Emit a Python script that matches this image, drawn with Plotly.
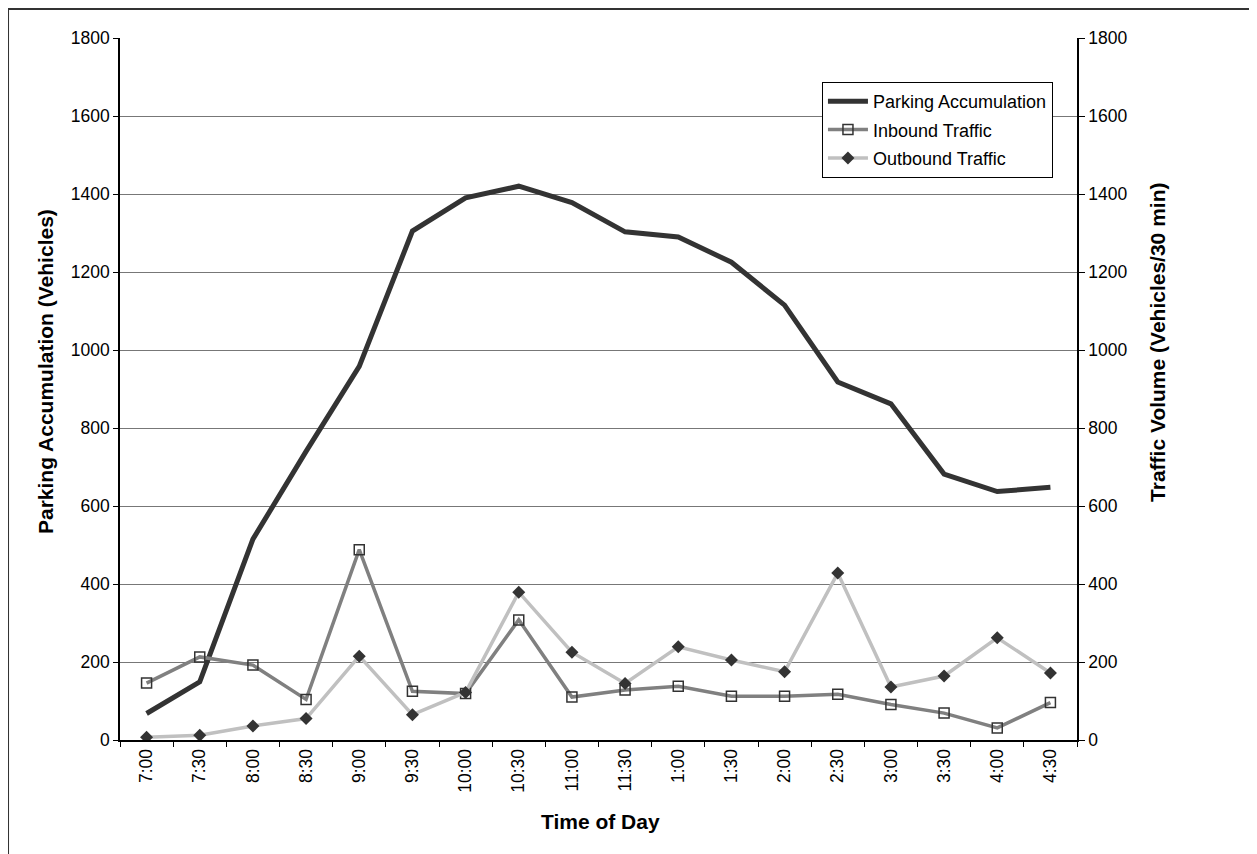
import plotly.graph_objects as go

times = ["7:00", "7:30", "8:00", "8:30", "9:00", "9:30", "10:00", "10:30", "11:00", "11:30",
         "1:00", "1:30", "2:00", "2:30", "3:00", "3:30", "4:00", "4:30"]
parking = [68, 149, 515, 740, 958, 1305, 1390, 1420, 1378, 1303,
           1290, 1225, 1115, 918, 862, 682, 637, 648]
inbound = [146, 213, 192, 104, 488, 125, 119, 308, 110, 128,
           138, 112, 112, 117, 91, 69, 31, 96]
outbound = [7, 12, 36, 55, 215, 65, 122, 379, 225, 145,
            239, 205, 175, 428, 136, 164, 262, 172]
yticks = [0, 200, 400, 600, 800, 1000, 1200, 1400, 1600, 1800]

FONT = "Liberation Sans, Arial, sans-serif"

fig = go.Figure()
fig.add_trace(go.Scatter(x=times, y=parking, name="Parking Accumulation", mode="lines",
                         line=dict(color="#333333", width=5), yaxis="y", legendgroup="a"))
fig.add_trace(go.Scatter(x=times, y=inbound, name="Inbound Traffic", mode="lines+markers",
                         line=dict(color="#808080", width=3.5),
                         marker=dict(symbol="square-open", size=10, color="#333333",
                                     line=dict(color="#333333", width=1.5)),
                         yaxis="y2", legendgroup="b"))
fig.add_trace(go.Scatter(x=times, y=outbound, name="Outbound Traffic", mode="lines+markers",
                         line=dict(color="#c0c0c0", width=3.5),
                         marker=dict(symbol="diamond", size=10, color="#333333"),
                         yaxis="y2", legendgroup="c"))

fig.update_layout(
    width=1257, height=854,
    margin=dict(l=112, r=188, t=30, b=122),
    paper_bgcolor="white", plot_bgcolor="white",
    font=dict(family=FONT, color="black", size=17),
    showlegend=True,
    legend=dict(x=0.7335, y=0.9373, xanchor="left", yanchor="top",
                bordercolor="black", borderwidth=1, bgcolor="white",
                font=dict(size=18, family=FONT), tracegroupgap=2, itemwidth=40),
    xaxis=dict(type="category", range=[-0.5, len(times) - 0.5], tickangle=-90, ticks="outside",
               tickson="boundaries", ticklen=5, tickcolor="black", showline=True,
               linecolor="black", linewidth=2, showgrid=False, tickfont=dict(size=17.5)),
    yaxis=dict(range=[0, 1800], tickvals=yticks, ticks="outside", ticklen=5, tickcolor="black",
               showline=True, linecolor="black", linewidth=1.5, showgrid=True,
               gridcolor="#777777", gridwidth=1, zeroline=False, tickfont=dict(size=17.5)),
    yaxis2=dict(range=[0, 1800], tickvals=yticks, overlaying="y", side="right", ticks="outside",
                ticklen=6, tickcolor="black", showline=True, linecolor="black", linewidth=1.5,
                showgrid=False, zeroline=False, tickfont=dict(size=17.5)),
    annotations=[
        dict(text="<b>Parking Accumulation (Vehicles)</b>", xref="paper", yref="paper",
             x=-0.0784, y=0.5256, textangle=-90, showarrow=False, font=dict(size=21),
             xanchor="center", yanchor="middle"),
        dict(text="<b>Traffic Volume (Vehicles/30 min)</b>", xref="paper", yref="paper",
             x=1.0846, y=0.567, textangle=-90, showarrow=False, font=dict(size=21),
             xanchor="center", yanchor="middle"),
        dict(text="<b>Time of Day</b>", xref="paper", yref="paper",
             x=0.5016, y=-0.1154, showarrow=False, font=dict(size=21),
             xanchor="center", yanchor="middle"),
    ],
    shapes=[dict(type="rect", xref="paper", yref="paper", x0=-0.117, x1=1.187, y0=-0.3, y1=1.0413,
                 line=dict(color="#333333", width=2), fillcolor="rgba(0,0,0,0)", layer="below")],
)

fig.write_html("out.html")
